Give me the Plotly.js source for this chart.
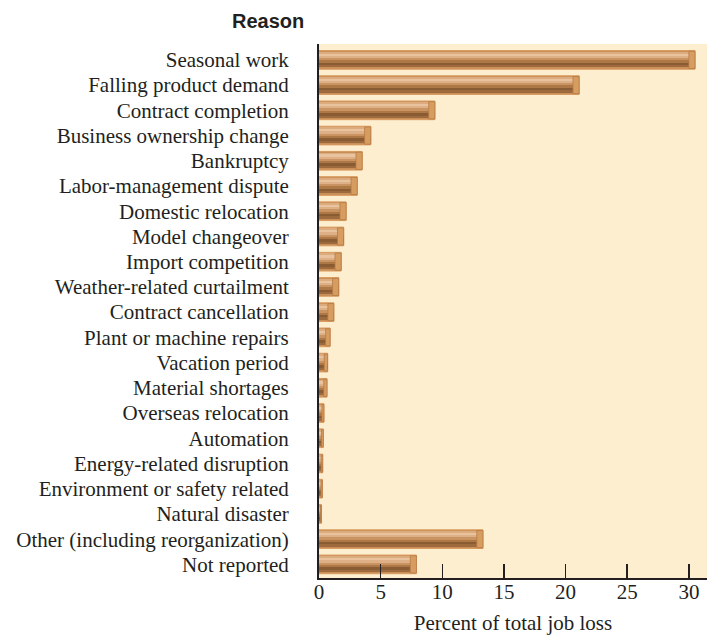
<!DOCTYPE html>
<html>
<head>
<meta charset="utf-8">
<script src="https://cdn.plot.ly/plotly-3.0.1.min.js"></script>
<style>html,body{margin:0;padding:0;background:#fff;}#chart{width:707px;height:635px;}</style>
</head>
<body>
<div id="chart"></div>
<script>
const reasons = [
  "Seasonal work",
  "Falling product demand",
  "Contract completion",
  "Business ownership change",
  "Bankruptcy",
  "Labor-management dispute",
  "Domestic relocation",
  "Model changeover",
  "Import competition",
  "Weather-related curtailment",
  "Contract cancellation",
  "Plant or machine repairs",
  "Vacation period",
  "Material shortages",
  "Overseas relocation",
  "Automation",
  "Energy-related disruption",
  "Environment or safety related",
  "Natural disaster",
  "Other (including reorganization)",
  "Not reported"
];
const percentLoss = [30.5, 21.1, 9.4, 4.2, 3.5, 3.1, 2.2, 2.0, 1.8, 1.6, 1.2, 0.9, 0.7, 0.65, 0.4, 0.35, 0.3, 0.27, 0.2, 13.3, 7.9];
const xTicks = [0, 5, 10, 15, 20, 25, 30];

const ink = '#231f20';
const serif = '"Liberation Serif", "Times New Roman", serif';
const barW = 0.74;

const traces = [];
// base bar with outline
traces.push({
  type: 'bar', orientation: 'h', y: reasons, x: percentLoss,
  width: barW, marker: {color: '#c98f59', line: {color: '#d99b5f', width: 1}},
  hoverinfo: 'skip', showlegend: false
});
// gradient stripes (top -> bottom)
const stripes = [
  [0.06, 0.16, '#dcab7e'],
  [0.16, 0.28, '#e8c39d'],
  [0.28, 0.40, '#deb088'],
  [0.40, 0.52, '#c99462'],
  [0.52, 0.64, '#ad7746'],
  [0.64, 0.78, '#8a5c33'],
  [0.78, 0.90, '#9c6a3c'],
  [0.90, 0.96, '#c98f59']
];
stripes.forEach(s => {
  traces.push({
    type: 'bar', orientation: 'h', y: reasons, x: percentLoss,
    width: (s[1] - s[0]) * barW, offset: -barW / 2 + s[0] * barW,
    marker: {color: s[2], line: {width: 0}},
    hoverinfo: 'skip', showlegend: false
  });
});
// end cap
const capLen = percentLoss.map(v => Math.min(0.5, v * 0.4));
traces.push({
  type: 'bar', orientation: 'h', y: reasons, x: capLen,
  base: percentLoss.map((v, i) => v - capLen[i]),
  width: barW * 0.92,
  marker: {color: '#d79d60', line: {color: '#b67b45', width: 0.8}},
  hoverinfo: 'skip', showlegend: false
});

const layout = {
  width: 707, height: 635,
  margin: {l: 319, r: 0, t: 44, b: 57},
  paper_bgcolor: '#ffffff',
  plot_bgcolor: '#feeed0',
  barmode: 'overlay',
  bargap: 0,
  font: {family: serif, color: ink, size: 21},
  xaxis: {
    range: [0, 31.47],
    tickvals: xTicks, ticktext: xTicks.map(String),
    ticks: 'inside', ticklen: 14, tickwidth: 1.5, tickcolor: ink,
    showline: true, linecolor: ink, linewidth: 2,
    showgrid: false, zeroline: false,
    tickfont: {family: serif, size: 21, color: ink},
    ticklabelstandoff: -6,
    title: {text: 'Percent of total job loss', font: {family: serif, size: 21, color: ink}, standoff: 14}
  },
  yaxis: {
    type: 'category',
    range: [20.54, -0.63],
    ticks: '', showline: true, linecolor: ink, linewidth: 2,
    showgrid: false, zeroline: false,
    tickfont: {family: serif, size: 21, color: ink},
    ticklabelstandoff: 24
  },
  annotations: [{
    text: '<b>Reason</b>', xref: 'paper', yref: 'paper', x: 0, y: 1,
    xanchor: 'right', yanchor: 'bottom', xshift: -13, yshift: 10, showarrow: false,
    font: {family: '"Liberation Sans", Arial, sans-serif', size: 20, color: ink}
  }]
};

Plotly.newPlot('chart', traces, layout, {displayModeBar: false, staticPlot: true});
</script>
</body>
</html>
